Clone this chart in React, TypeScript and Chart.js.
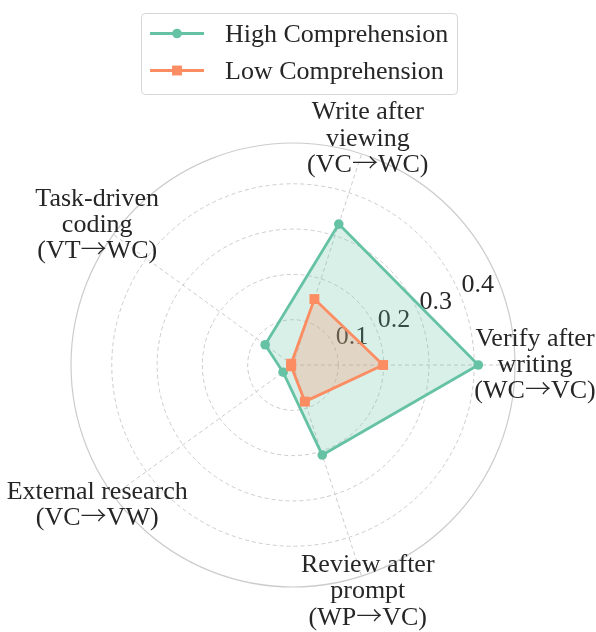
import React, { useEffect, useRef } from 'react';
import { Chart, registerables } from 'chart.js';

Chart.register(...registerables);

// Categories in clockwise order starting at the right-hand spoke
const categories: string[][] = [
  ['Verify after', 'writing', '(WC→VC)'],
  ['Review after', 'prompt', '(WP→VC)'],
  ['External research', '(VC→VW)'],
  ['Task-driven', 'coding', '(VT→WC)'],
  ['Write after', 'viewing', '(VC→WC)'],
];
const seriesNames = ['High Comprehension', 'Low Comprehension'];
const highValues = [0.409, 0.209, 0.027, 0.076, 0.327];
const lowValues = [0.199, 0.085, 0.005, 0.005, 0.153];
const rTicks = [0.1, 0.2, 0.3, 0.4];
const rTickLabels = ['0.1', '0.2', '0.3', '0.4'];
const rMax = 0.49;

const GREEN = '#66c2a5';
const ORANGE = '#fc8d62';
const FONT_FAMILY = '"Liberation Serif", "Times New Roman", serif';
const ARROW_FAMILY = '"Noto Sans CJK JP", "Liberation Serif", serif';
const FONT_SIZE = 26;
const TEXT = '#262626';

function drawMixed(ctx: CanvasRenderingContext2D, text: string, x: number, y: number, align: 'center' | 'left') {
  const serif = `${FONT_SIZE}px ${FONT_FAMILY}`;
  const arrowFont = `200 ${FONT_SIZE}px ${ARROW_FAMILY}`;
  const parts = text.split('→');
  ctx.font = serif;
  const widths = parts.map((p) => ctx.measureText(p).width);
  ctx.font = arrowFont;
  const aw = ctx.measureText('→').width;
  const total = widths.reduce((s, w) => s + w, 0) + aw * (parts.length - 1);
  let cx = align === 'center' ? x - total / 2 : x;
  ctx.textAlign = 'left';
  parts.forEach((p, i) => {
    ctx.font = serif;
    ctx.fillText(p, cx, y);
    cx += widths[i];
    if (i < parts.length - 1) {
      ctx.font = arrowFont;
      ctx.fillText('→', cx, y);
      cx += aw;
    }
  });
  ctx.font = serif;
}

const radarDecor = {
  id: 'radarDecor',
  beforeDatasetsDraw(chart: any) {
    const scale = chart.scales.r;
    const ctx = chart.ctx;
    const R = scale.getDistanceFromCenterForValue(scale.max);
    ctx.save();
    ctx.beginPath();
    ctx.arc(scale.xCenter, scale.yCenter, R, 0, Math.PI * 2);
    ctx.strokeStyle = '#cccccc';
    ctx.lineWidth = 1.2;
    ctx.stroke();

    ctx.font = `${FONT_SIZE}px ${FONT_FAMILY}`;
    ctx.fillStyle = TEXT;
    ctx.textAlign = 'left';
    ctx.textBaseline = 'alphabetic';
    const a = (22.5 * Math.PI) / 180;
    rTicks.forEach((v, i) => {
      const d = scale.getDistanceFromCenterForValue(v);
      ctx.fillText(
        rTickLabels[i],
        scale.xCenter + Math.cos(a) * d + 1,
        scale.yCenter - Math.sin(a) * d - 3.5
      );
    });
    ctx.restore();
  },
  afterDraw(chart: any) {
    const scale = chart.scales.r;
    const ctx = chart.ctx;
    ctx.save();
    // category labels
    const R = scale.getDistanceFromCenterForValue(scale.max);
    ctx.fillStyle = TEXT;
    ctx.textBaseline = 'alphabetic';
    const lh = 26.3;
    (chart.data.labels as string[][]).forEach((lines, i) => {
      const px = scale.getPointPosition(i, R + 20);
      const py = scale.getPointPosition(i, R + 16);
      lines.forEach((t, j) => {
        drawMixed(ctx, t, px.x, py.y + (j - (lines.length - 1) / 2) * lh + 7, 'center');
      });
    });

    // legend
    const bx = 141.5, by = 13.5, bw = 316, bh = 81;
    ctx.beginPath();
    ctx.roundRect(bx, by, bw, bh, 4);
    ctx.fillStyle = 'rgba(255,255,255,0.8)';
    ctx.fill();
    ctx.strokeStyle = '#d6d6d6';
    ctx.lineWidth = 1;
    ctx.stroke();
    chart.data.datasets.forEach((ds: any, i: number) => {
      const y = 33.5 + i * 37;
      ctx.beginPath();
      ctx.moveTo(150, y);
      ctx.lineTo(204, y);
      ctx.strokeStyle = ds.borderColor;
      ctx.lineWidth = ds.borderWidth;
      ctx.lineCap = 'butt';
      ctx.stroke();
      ctx.fillStyle = ds.borderColor;
      ctx.beginPath();
      if (ds.pointStyle === 'rect') {
        const s = ds.pointRadius * Math.SQRT1_2;
        ctx.rect(177 - s, y - s, 2 * s, 2 * s);
      } else {
        ctx.arc(177, y, ds.pointRadius, 0, Math.PI * 2);
      }
      ctx.fill();
      ctx.fillStyle = TEXT;
      drawMixed(ctx, ds.label, 225, y + 8.5, 'left');
    });
    ctx.restore();
  },
};

export default function App() {
  const ref = useRef<HTMLCanvasElement | null>(null);
  useEffect(() => {
    if (!ref.current) return;
    const chart = new Chart(ref.current, {
      type: 'radar',
      data: {
        labels: categories as any,
        datasets: [
          {
            label: seriesNames[0],
            data: highValues,
            borderColor: GREEN,
            backgroundColor: 'rgba(102,194,165,0.25)',
            borderWidth: 2.8,
            borderJoinStyle: 'round',
            pointStyle: 'circle',
            pointRadius: 4.8,
            pointHoverRadius: 4.8,
            pointBackgroundColor: GREEN,
            pointBorderWidth: 0,
            fill: true,
            order: 2,
          } as any,
          {
            label: seriesNames[1],
            data: lowValues,
            borderColor: ORANGE,
            backgroundColor: 'rgba(252,141,98,0.25)',
            borderWidth: 2.8,
            borderJoinStyle: 'round',
            pointStyle: 'rect',
            pointRadius: 7,
            pointHoverRadius: 7,
            pointBackgroundColor: ORANGE,
            pointBorderWidth: 0,
            fill: true,
            order: 1,
          } as any,
        ],
      },
      options: {
        responsive: false,
        animation: false,
        layout: { padding: { left: 71, right: 81, top: 143, bottom: 45 } },
        plugins: { legend: { display: false }, tooltip: { enabled: false } },
        elements: { line: { tension: 0 } },
        scales: {
          r: {
            min: 0,
            max: rMax,
            startAngle: 90,
            ticks: { display: false, stepSize: 0.1, includeBounds: false },
            grid: { color: '#cccccc', lineWidth: 1, circular: true },
            border: { dash: [4, 3] },
            angleLines: { color: '#cccccc', lineWidth: 1, borderDash: [4, 3] },
            pointLabels: { display: false },
          } as any,
        },
      },
      plugins: [radarDecor],
    });
    return () => chart.destroy();
  }, []);
  return (
    <div style={{ position: 'fixed', left: 0, top: 0, width: 596, height: 632, background: '#fff' }}>
      <canvas ref={ref} width={596} height={632} style={{ display: 'block' }} />
    </div>
  );
}
